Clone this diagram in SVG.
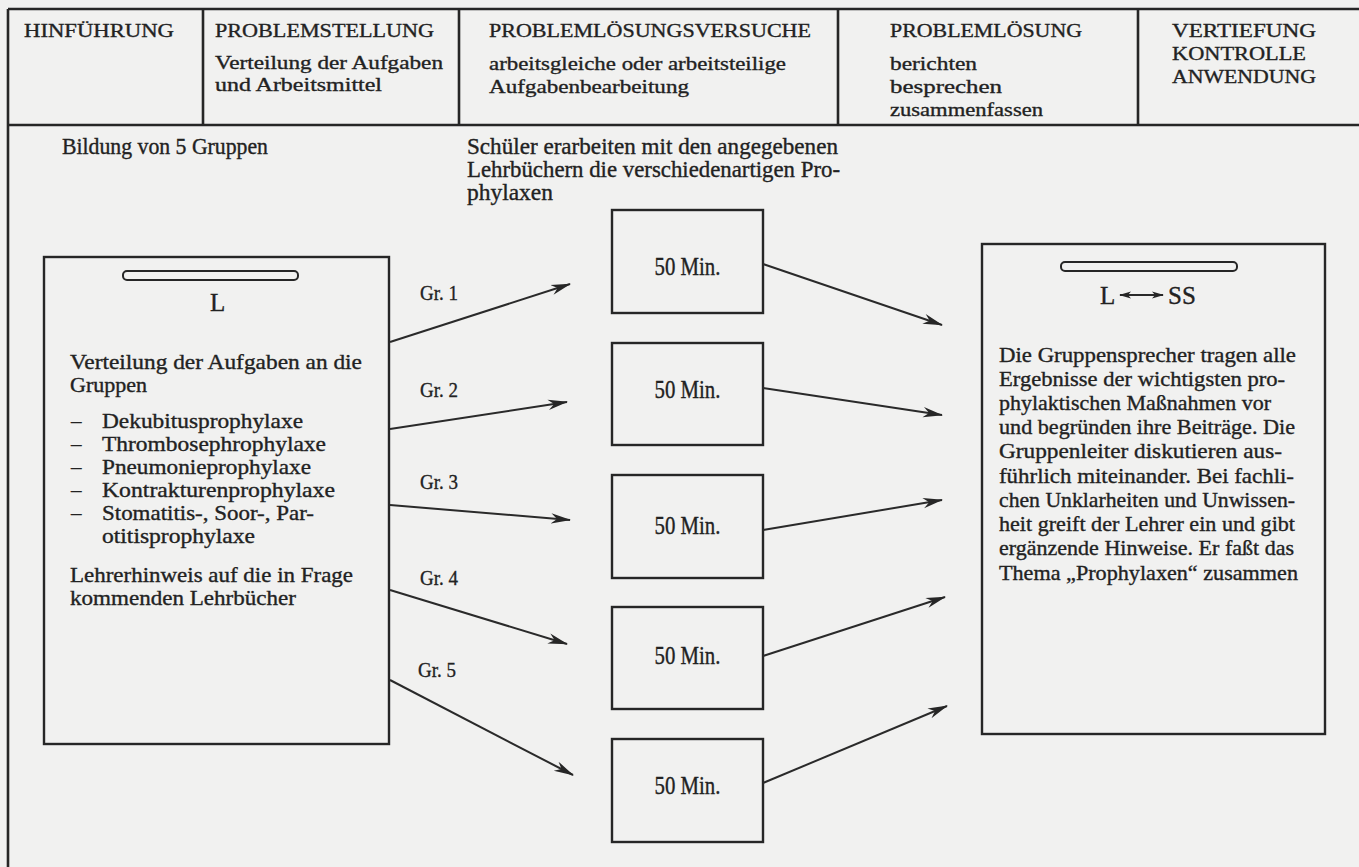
<svg xmlns="http://www.w3.org/2000/svg" width="1359" height="867" viewBox="0 0 1359 867">
  <style>
    .ink { stroke: #262626; fill: none; }
    .frame { stroke-width: 2.6; }
    .box { stroke-width: 2.4; }
    .edge { stroke: #2a2a2a; stroke-width: 2; fill: none; }
    text { font-family: "Liberation Serif", "Times New Roman", serif; fill: #222; stroke: #222; stroke-width: 0.35px; }
    .hd { font-size: 19.5px; }
    .bd { font-size: 21px; }
    .nt { font-size: 25px; }
    .tm { font-size: 22.5px; }
    .gr { font-size: 22px; }
    .big { font-size: 25px; }
  </style>
  <defs>
    <marker id="head" viewBox="0 0 20 12" refX="19" refY="6" markerWidth="20" markerHeight="12" markerUnits="userSpaceOnUse" orient="auto">
      <path d="M0,0.8 L20,6 L0,11.2 L6,6 Z" fill="#262626"/>
    </marker>
    <marker id="dhead" viewBox="0 0 12 8" refX="11" refY="4" markerWidth="12" markerHeight="8" markerUnits="userSpaceOnUse" orient="auto-start-reverse">
      <path d="M0,0.5 L12,4 L0,7.5 L3,4 Z" fill="#262626"/>
    </marker>
  </defs>

  <rect x="0" y="0" width="1359" height="867" fill="#f1f1f0"/>

  <!-- table frame and header row -->
  <g id="frame" class="ink frame">
    <line x1="8" y1="9" x2="1359" y2="9"/>
    <line x1="8" y1="9" x2="8" y2="867"/>
    <line x1="8" y1="125" x2="1359" y2="125"/>
    <line x1="203" y1="9" x2="203" y2="125"/>
    <line x1="459" y1="9" x2="459" y2="125"/>
    <line x1="838" y1="9" x2="838" y2="125"/>
    <line x1="1138" y1="9" x2="1138" y2="125"/>
  </g>

  <g id="phase-hinfuehrung">
    <text class="hd" x="24" y="37" textLength="150" lengthAdjust="spacingAndGlyphs">HINFÜHRUNG</text>
  </g>
  <g id="phase-problemstellung">
    <text class="hd" x="215" y="37" textLength="219" lengthAdjust="spacingAndGlyphs">PROBLEMSTELLUNG</text>
    <text class="hd" x="215" y="69" textLength="228" lengthAdjust="spacingAndGlyphs">Verteilung der Aufgaben</text>
    <text class="hd" x="215" y="91" textLength="167" lengthAdjust="spacingAndGlyphs">und Arbeitsmittel</text>
  </g>
  <g id="phase-versuche">
    <text class="hd" x="489" y="37" textLength="322" lengthAdjust="spacingAndGlyphs">PROBLEMLÖSUNGSVERSUCHE</text>
    <text class="hd" x="489" y="70" textLength="297" lengthAdjust="spacingAndGlyphs">arbeitsgleiche oder arbeitsteilige</text>
    <text class="hd" x="489" y="93" textLength="200" lengthAdjust="spacingAndGlyphs">Aufgabenbearbeitung</text>
  </g>
  <g id="phase-loesung">
    <text class="hd" x="890" y="37" textLength="192" lengthAdjust="spacingAndGlyphs">PROBLEMLÖSUNG</text>
    <text class="hd" x="890" y="70" textLength="87" lengthAdjust="spacingAndGlyphs">berichten</text>
    <text class="hd" x="890" y="93" textLength="112" lengthAdjust="spacingAndGlyphs">besprechen</text>
    <text class="hd" x="890" y="116" textLength="153" lengthAdjust="spacingAndGlyphs">zusammenfassen</text>
  </g>
  <g id="phase-vertiefung">
    <text class="hd" x="1172" y="37" textLength="144" lengthAdjust="spacingAndGlyphs">VERTIEFUNG</text>
    <text class="hd" x="1172" y="60" textLength="134" lengthAdjust="spacingAndGlyphs">KONTROLLE</text>
    <text class="hd" x="1172" y="83" textLength="144" lengthAdjust="spacingAndGlyphs">ANWENDUNG</text>
  </g>

  <!-- notes above the flow -->
  <g id="note-gruppen">
    <text class="tm" x="62" y="154" textLength="206" lengthAdjust="spacingAndGlyphs">Bildung von 5 Gruppen</text>
  </g>
  <g id="note-schueler">
    <text class="tm" x="467" y="154" textLength="371" lengthAdjust="spacingAndGlyphs">Schüler erarbeiten mit den angegebenen</text>
    <text class="tm" x="467" y="177" textLength="373" lengthAdjust="spacingAndGlyphs">Lehrbüchern die verschiedenartigen Pro-</text>
    <text class="tm" x="467" y="200" textLength="86" lengthAdjust="spacingAndGlyphs">phylaxen</text>
  </g>

  <!-- teacher panel -->
  <g id="lehrer">
    <rect class="ink box" x="44" y="257" width="345" height="487"/>
    <rect class="ink" stroke-width="2" x="123" y="271" width="175" height="9" rx="4"/>
    <text class="nt" x="210" y="311">L</text>
    <text class="bd" x="70" y="369" textLength="292" lengthAdjust="spacingAndGlyphs">Verteilung der Aufgaben an die</text>
    <text class="bd" x="70" y="392" textLength="77" lengthAdjust="spacingAndGlyphs">Gruppen</text>
    <text class="bd" x="71" y="428">–</text>
    <text class="bd" x="102" y="428" textLength="201" lengthAdjust="spacingAndGlyphs">Dekubitusprophylaxe</text>
    <text class="bd" x="71" y="451">–</text>
    <text class="bd" x="102" y="451" textLength="224" lengthAdjust="spacingAndGlyphs">Thrombosephrophylaxe</text>
    <text class="bd" x="71" y="474">–</text>
    <text class="bd" x="102" y="474" textLength="209" lengthAdjust="spacingAndGlyphs">Pneumonieprophylaxe</text>
    <text class="bd" x="71" y="497">–</text>
    <text class="bd" x="102" y="497" textLength="233" lengthAdjust="spacingAndGlyphs">Kontrakturenprophylaxe</text>
    <text class="bd" x="71" y="520">–</text>
    <text class="bd" x="102" y="520" textLength="212" lengthAdjust="spacingAndGlyphs">Stomatitis-, Soor-, Par-</text>
    <text class="bd" x="102" y="543" textLength="153" lengthAdjust="spacingAndGlyphs">otitisprophylaxe</text>
    <text class="bd" x="70" y="582" textLength="283" lengthAdjust="spacingAndGlyphs">Lehrerhinweis auf die in Frage</text>
    <text class="bd" x="70" y="605" textLength="226" lengthAdjust="spacingAndGlyphs">kommenden Lehrbücher</text>
  </g>

  <!-- group work boxes -->
  <g id="gruppe-1">
    <rect class="ink box" x="612" y="210" width="151" height="103"/>
    <text class="big" x="687.5" y="275" text-anchor="middle" textLength="66" lengthAdjust="spacingAndGlyphs">50 Min.</text>
  </g>
  <g id="gruppe-2">
    <rect class="ink box" x="612" y="343" width="151" height="102"/>
    <text class="big" x="687.5" y="398" text-anchor="middle" textLength="66" lengthAdjust="spacingAndGlyphs">50 Min.</text>
  </g>
  <g id="gruppe-3">
    <rect class="ink box" x="612" y="475" width="151" height="103"/>
    <text class="big" x="687.5" y="534" text-anchor="middle" textLength="66" lengthAdjust="spacingAndGlyphs">50 Min.</text>
  </g>
  <g id="gruppe-4">
    <rect class="ink box" x="612" y="607" width="151" height="102"/>
    <text class="big" x="687.5" y="664" text-anchor="middle" textLength="66" lengthAdjust="spacingAndGlyphs">50 Min.</text>
  </g>
  <g id="gruppe-5">
    <rect class="ink box" x="612" y="739" width="151" height="103"/>
    <text class="big" x="687.5" y="794" text-anchor="middle" textLength="66" lengthAdjust="spacingAndGlyphs">50 Min.</text>
  </g>

  <!-- report panel -->
  <g id="bericht">
    <rect class="ink box" x="982" y="244" width="343" height="490"/>
    <rect class="ink" stroke-width="2" x="1061" y="262" width="176" height="9" rx="4"/>
    <text class="nt" x="1100" y="304">L</text>
    <line class="edge" stroke-width="1.8" x1="1120" y1="295" x2="1163" y2="295" marker-start="url(#dhead)" marker-end="url(#dhead)"/>
    <text class="nt" x="1168" y="304">SS</text>
    <text class="bd" x="999" y="362" textLength="297" lengthAdjust="spacingAndGlyphs">Die Gruppensprecher tragen alle</text>
    <text class="bd" x="999" y="386" textLength="286" lengthAdjust="spacingAndGlyphs">Ergebnisse der wichtigsten pro-</text>
    <text class="bd" x="999" y="410" textLength="272" lengthAdjust="spacingAndGlyphs">phylaktischen Maßnahmen vor</text>
    <text class="bd" x="999" y="434" textLength="296" lengthAdjust="spacingAndGlyphs">und begründen ihre Beiträge. Die</text>
    <text class="bd" x="999" y="458" textLength="283" lengthAdjust="spacingAndGlyphs">Gruppenleiter diskutieren aus-</text>
    <text class="bd" x="999" y="483" textLength="295" lengthAdjust="spacingAndGlyphs">führlich miteinander. Bei fachli-</text>
    <text class="bd" x="999" y="507" textLength="296" lengthAdjust="spacingAndGlyphs">chen Unklarheiten und Unwissen-</text>
    <text class="bd" x="999" y="531" textLength="296" lengthAdjust="spacingAndGlyphs">heit greift der Lehrer ein und gibt</text>
    <text class="bd" x="999" y="555" textLength="295" lengthAdjust="spacingAndGlyphs">ergänzende Hinweise. Er faßt das</text>
    <text class="bd" x="999" y="580" textLength="299" lengthAdjust="spacingAndGlyphs">Thema „Prophylaxen“ zusammen</text>
  </g>

  <!-- connectors: teacher to groups, groups to report -->
  <g id="connectors">
    <line class="edge" x1="390" y1="342" x2="570" y2="284" marker-end="url(#head)"/>
    <line class="edge" x1="390" y1="429" x2="567" y2="402" marker-end="url(#head)"/>
    <line class="edge" x1="390" y1="505" x2="570" y2="520" marker-end="url(#head)"/>
    <line class="edge" x1="390" y1="590" x2="567" y2="644" marker-end="url(#head)"/>
    <line class="edge" x1="390" y1="680" x2="573" y2="775" marker-end="url(#head)"/>
    <line class="edge" x1="763" y1="264" x2="942" y2="325" marker-end="url(#head)"/>
    <line class="edge" x1="763" y1="388" x2="942" y2="415" marker-end="url(#head)"/>
    <line class="edge" x1="763" y1="530" x2="942" y2="500" marker-end="url(#head)"/>
    <line class="edge" x1="763" y1="656" x2="945" y2="597" marker-end="url(#head)"/>
    <line class="edge" x1="763" y1="783" x2="947" y2="706" marker-end="url(#head)"/>
    <text class="gr" x="420" y="300" textLength="38" lengthAdjust="spacingAndGlyphs">Gr. 1</text>
    <text class="gr" x="420" y="397" textLength="38" lengthAdjust="spacingAndGlyphs">Gr. 2</text>
    <text class="gr" x="420" y="489" textLength="38" lengthAdjust="spacingAndGlyphs">Gr. 3</text>
    <text class="gr" x="420" y="585" textLength="38" lengthAdjust="spacingAndGlyphs">Gr. 4</text>
    <text class="gr" x="418" y="677" textLength="38" lengthAdjust="spacingAndGlyphs">Gr. 5</text>
  </g>
</svg>
